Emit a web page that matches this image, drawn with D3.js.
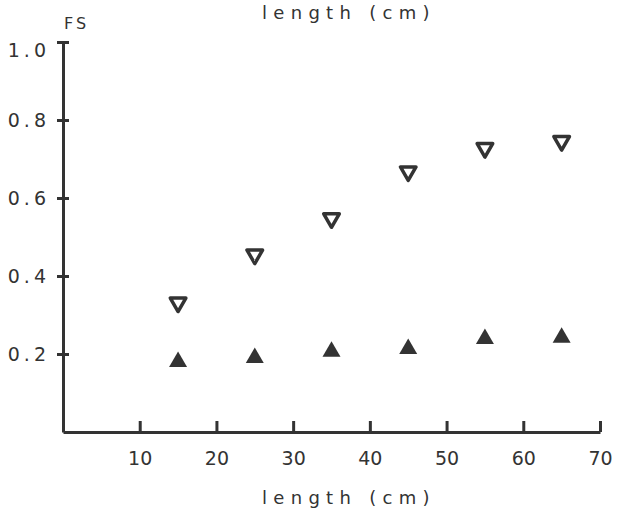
<!DOCTYPE html>
<html>
<head lang="en">
    <meta charset="UTF-8">
    <title>FS vs length</title>
    <script src="https://d3js.org/d3.v7.min.js"></script>
    <style>
        body{ margin:0; background:#fff; }
        text{ font-family:"DejaVu Sans", sans-serif; fill:#333; }
        .axis path, .axis line{ stroke:#333; stroke-width:3; }
        .axis text{ font-size:19px; fill:#333; }
        .ttl{ font-size:18px; letter-spacing:6.3px; }
    </style>
</head>
<body>
<svg id="chart" width="622" height="518"></svg>
<script>
    // data
    const LENGTHS = [15, 25, 35, 45, 55, 65];
    const OPEN_FS = [0.332, 0.455, 0.548, 0.668, 0.728, 0.746];   // open down-triangles
    const FILLED_FS = [0.180, 0.190, 0.206, 0.213, 0.239, 0.242]; // filled up-triangles
    const X_TICKS = [10, 20, 30, 40, 50, 60, 70];
    const Y_TICKS = [0.2, 0.4, 0.6, 0.8, 1.0];

    let svg = d3.select('#chart');
    let margins = {top:42, left:63, right:22, bottom:86};
    let width = 622 - margins.left - margins.right,
        height = 518 - margins.top - margins.bottom;

    let xscale = d3.scaleLinear().domain([0, 70]).range([0, width]);
    let yscale = d3.scaleLinear().domain([0, 1.0]).range([height, 0]);

    let g = svg.append('g').attr('transform', `translate(${margins.left},${margins.top})`);

    // x axis, ticks point up
    let gx = g.append('g')
        .attr('class', 'axis axis--x')
        .attr('transform', `translate(0,${height})`)
        .call(d3.axisBottom(xscale).tickValues(X_TICKS).tickSizeInner(-11).tickSizeOuter(0).tickPadding(20));
    gx.selectAll('.tick text').attr('dy', '0.71em');

    // y axis, ticks cross the line
    let gy = g.append('g')
        .attr('class', 'axis axis--y')
        .call(d3.axisLeft(yscale).tickValues(Y_TICKS).tickFormat(d3.format('.1f')).tickSizeOuter(0).tickPadding(7));
    gy.selectAll('.tick line').attr('x1', 6).attr('x2', -6);
    gy.selectAll('.tick text').style('letter-spacing', '4px');
    gy.selectAll('.tick').filter(d => d === 1.0).select('text').attr('dy', '0.75em');

    // markers
    let pts = LENGTHS.map((d, i) => ({x:d, open:OPEN_FS[i], filled:FILLED_FS[i]}));

    g.selectAll('.open')
        .data(pts)
        .enter()
        .append('path')
        .attr('class', 'open')
        .attr('d', d3.symbol().type(d3.symbolTriangle).size(105))
        .attr('transform', d => `translate(${xscale(d.x)},${yscale(d.open)}) rotate(180)`)
        .attr('fill', 'none')
        .attr('stroke', '#333')
        .attr('stroke-width', 3.5)
        .attr('stroke-linejoin', 'round');

    g.selectAll('.filled')
        .data(pts)
        .enter()
        .append('path')
        .attr('class', 'filled')
        .attr('d', d3.symbol().type(d3.symbolTriangle).size(140))
        .attr('transform', d => `translate(${xscale(d.x)},${yscale(d.filled)})`)
        .attr('fill', '#333');

    // labels
    svg.append('text').attr('class', 'ttl').attr('x', 262).attr('y', 19).text('length (cm)');
    svg.append('text').attr('class', 'ttl').attr('x', 262).attr('y', 504).text('length (cm)');
    svg.append('text').attr('x', 64).attr('y', 29).style('font-size', '16px').style('letter-spacing', '3px').text('FS');
</script>
</body>
</html>
